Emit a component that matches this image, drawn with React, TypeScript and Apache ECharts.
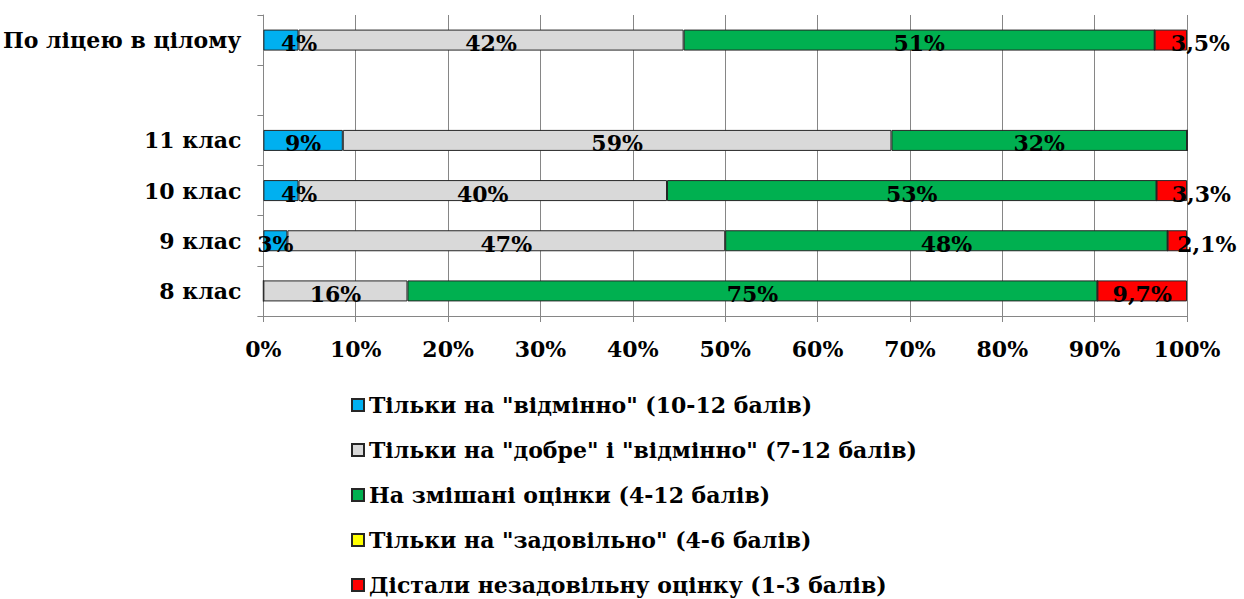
import React, { useEffect, useRef } from "react";
import * as echarts from "echarts";

const categories = ["8 клас", "9 клас", "10 клас", "11 клас", "", "По ліцею в цілому"];
const seriesNames = [
  'Тільки на "відмінно" (10-12 балів)',
  'Тільки на "добре" і "відмінно" (7-12 балів)',
  "На змішані оцінки (4-12 балів)",
  'Тільки на "задовільно" (4-6 балів)',
  "Дістали незадовільну оцінку (1-3 балів)",
];
const excellent = [0, 2.6, 3.8, 8.6, null, 3.8];
const goodExcellent = [15.6, 47.4, 39.9, 59.4, null, 41.7];
const mixed = [74.7, 47.9, 53.0, 32.0, null, 51.0];
const satisfactory = [0, 0, 0, 0, null, 0];
const unsatisfactory = [9.7, 2.1, 3.3, 0, null, 3.5];
const xTicks = [0, 10, 20, 30, 40, 50, 60, 70, 80, 90, 100];

const colors = ["#00B0F0", "#D9D9D9", "#00B050", "#FFFF00", "#FF0000"];
const FONT = "'DejaVu Serif', 'Liberation Serif', serif";
const FS = 22;

export default function App() {
  const ref = useRef<HTMLDivElement>(null);
  useEffect(() => {
    if (!ref.current) return;
    const chart = echarts.init(ref.current, undefined, { renderer: "svg" });
    const all = [excellent, goodExcellent, mixed, satisfactory, unsatisfactory];
    const series = all.map((vals, si) => ({
      name: seriesNames[si],
      type: "bar",
      stack: "total",
      barWidth: 21,
      itemStyle: { color: colors[si], borderColor: "#262626", borderWidth: 1 },
      label: {
        show: true,
        position: "inside",
        color: "#000",
        fontFamily: FONT,
        fontWeight: "bold",
        fontSize: FS,
        offset: [0, 3],
        formatter: (p: any) => {
          const v = p.value;
          if (v == null || v === 0) return "";
          if (si === 4) return v.toFixed(1).replace(".", ",") + "%";
          return Math.round(v) + "%";
        },
      },
      data: vals.map((v) => {
        const small = v != null && ((si === 0 && v >= 3.5 && v < 5) || (si === 4 && v < 5));
        return small ? { value: v, label: { align: "left" } } : { value: v };
      }),
    }));
    chart.setOption({
      animation: false,
      backgroundColor: "#fff",
      grid: { left: 262, right: 57, top: 15, bottom: 283, containLabel: false },
      xAxis: {
        type: "value",
        min: 0,
        max: 100,
        interval: 10,
        axisLine: { show: true, lineStyle: { color: "#868686" } },
        axisTick: { show: true, length: 6, lineStyle: { color: "#868686" } },
        splitLine: { show: true, lineStyle: { color: "#868686" } },
        axisLabel: {
          margin: 22,
          color: "#000",
          fontFamily: FONT,
          fontWeight: "bold",
          fontSize: FS,
          formatter: (v: number) => (xTicks.includes(v) ? v + "%" : ""),
        },
      },
      yAxis: {
        type: "category",
        data: categories,
        axisLine: { show: true, lineStyle: { color: "#868686" } },
        axisTick: { show: true, length: 6, lineStyle: { color: "#868686" } },
        axisLabel: {
          margin: 22,
          color: "#000",
          fontFamily: FONT,
          fontWeight: "bold",
          fontSize: FS,
        },
      },
      legend: {
        orient: "vertical",
        left: 351,
        top: 393,
        padding: 0,
        itemWidth: 12,
        itemHeight: 12,
        itemGap: 21,
        icon: "rect",
        textStyle: {
          color: "#000",
          fontFamily: FONT,
          fontWeight: "bold",
          fontSize: FS,
          lineHeight: 24,
        },
        data: seriesNames,
      },
      series,
    });
    return () => chart.dispose();
  }, []);
  return (
    <div
      ref={ref}
      style={{ position: "fixed", left: 0, top: 0, width: 1244, height: 599 }}
    />
  );
}
